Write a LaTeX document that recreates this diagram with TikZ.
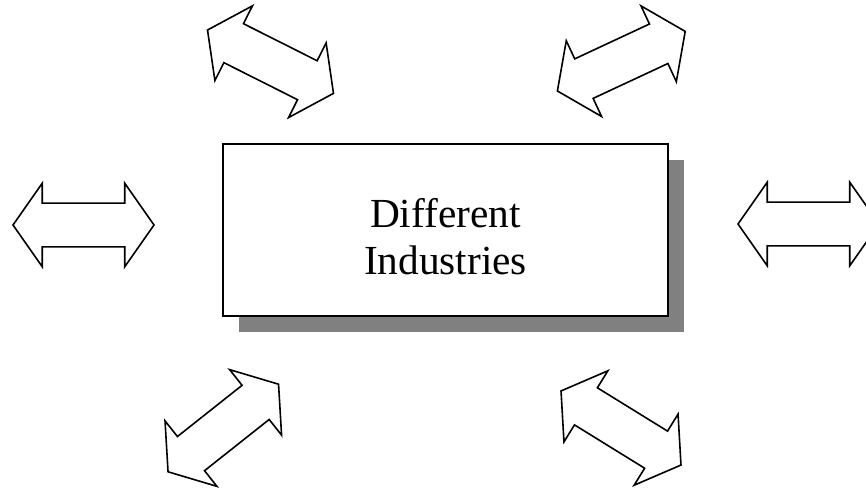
\documentclass[tikz,border=0pt]{standalone}
\usepackage{fontspec}
\setmainfont{Liberation Serif}
\usetikzlibrary{shapes.arrows,shadows,positioning}

\begin{document}
\begin{tikzpicture}[x=0.75pt, y=-0.75pt,
    link/.style={double arrow, draw, line width=1.2pt, fill=white,
        inner xsep=0pt, inner ysep=15.75pt,
        minimum height=105.75pt, minimum width=61.5pt,
        double arrow head extend=15pt, double arrow tip angle=110},
    sector/.style={rectangle, draw, line width=1.5pt, fill=white,
        minimum width=333.75pt, minimum height=129pt,
        drop shadow={shadow xshift=12pt, shadow yshift=-12pt, fill=black!50, opacity=1}}]
    \useasboundingbox (0,0) rectangle (866,488);

    % Central box
    \node [sector, label={[font=\fontsize{31pt}{35.25pt}\selectfont, align=center, yshift=-5pt]center:Different\\Industries}] (ind) at (445.5,230) {};

    % Double arrows around it
    \node [link] (w) at (83.5,225) {};
    \node [link] (e) at (808.5,224) {};
    \node [link, rotate=-26.7] (nw) at (270.5,61.7) {};
    \node [link, rotate=25] (ne) at (621.3,61.2) {};
    \node [link, rotate=38.4] (sw) at (223.3,428) {};
    \node [link, rotate=-31.7] (se) at (621,428) {};
\end{tikzpicture}
\end{document}
